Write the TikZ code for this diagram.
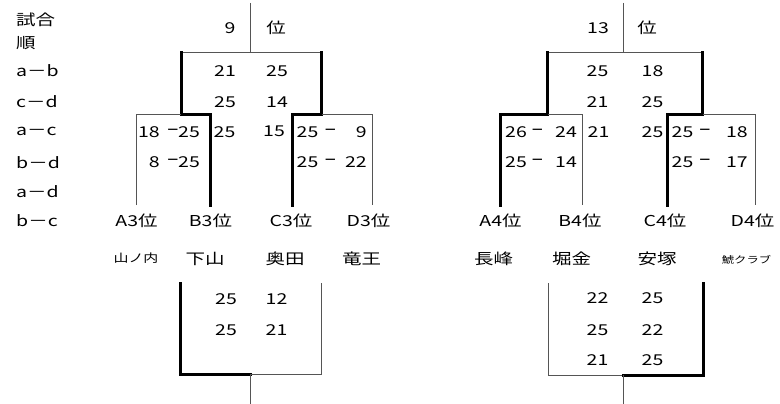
\documentclass[tikz,border=0pt]{standalone}
\usepackage{fontspec}
\setmainfont{Noto Sans CJK JP}[FakeStretch=1.3]
\newfontfamily\dashfont{DejaVu Sans}
\definecolor{line_gray}{HTML}{555555}

\tikzset{
    lose/.style={line width=1pt, line_gray},
    win/.style={line width=3pt, black, line cap=rect},
    lbl/.style={inner sep=0pt},
    dsh/.style={inner sep=0pt, font=\dashfont\fontsize{15}{18}\selectfont},
    small/.style={inner sep=0pt, font=\fontsize{11.5}{13}\selectfont},
    tiny/.style={inner sep=0pt, font=\fontsize{9.5}{11}\selectfont}
}

\begin{document}
\begin{tikzpicture}[x=1pt, y=-1pt, font=\fontsize{15}{18}\selectfont]
                \useasboundingbox (0,0) rectangle (780,404);
                % match order
                \node[lbl, anchor=west] (shiai) at (16,20) {試合};
                \node[lbl, anchor=west] (jun) at (16,43) {順};
                \node[lbl, anchor=west] (m1) at (16,70.7) {a－b};
                \node[lbl, anchor=west] (m2) at (16,101.7) {c－d};
                \node[lbl, anchor=west] (m3) at (16,131.7) {a－c};
                \node[lbl, anchor=west] (m4) at (16,162.3) {b－d};
                \node[lbl, anchor=west] (m5) at (16,191.7) {a－d};
                \node[lbl, anchor=west] (m6) at (16,220.7) {b－c};

                % 9th place bracket
                \draw[lose] (250.7,3) -- (250.7,53);
                \draw[lose] (181,53) -- (321.7,53);
                \draw[win] (210,205) -- (210,115) -- (181,115) -- (181,53);
                \draw[lose] (136,205) -- (136,115) -- (181,115);
                \draw[win] (292,205) -- (292,115) -- (321.7,115) -- (321.7,53);
                \draw[lose] (321.7,115) -- (372.5,115) -- (372.5,205);
                \draw[win] (180,283) -- (180,374) -- (250.7,374);
                \draw[lose] (250.7,374) -- (321.7,374) -- (321.7,283);
                \draw[lose] (250.7,374) -- (250.7,404);

                \node[lbl] (r9) at (230,28) {9};
                \node[lbl] (r9i) at (276,28) {位};
                \node[lbl] (f1l) at (225,70.7) {21};
                \node[lbl] (f1r) at (277,70.7) {25};
                \node[lbl] (f2l) at (225,101.7) {25};
                \node[lbl] (f2r) at (277,101.7) {14};
                \node[lbl] (f3l) at (224.5,131.7) {25};
                \node[lbl] (f3r) at (274,131.7) {15};
                \node[lbl, anchor=east] (ab1l) at (160,131.7) {18};
                \node[dsh] (ab1d) at (173,131.7) {−};
                \node[lbl] (ab1r) at (189,131.7) {25};
                \node[lbl, anchor=east] (ab2l) at (160,162.3) {8};
                \node[dsh] (ab2d) at (173,162.3) {−};
                \node[lbl] (ab2r) at (189,162.3) {25};
                \node[lbl] (cd1l) at (307.5,131.7) {25};
                \node[dsh] (cd1d) at (330.5,131.7) {−};
                \node[lbl, anchor=east] (cd1r) at (367,131.7) {9};
                \node[lbl] (cd2l) at (307.5,162.3) {25};
                \node[dsh] (cd2d) at (330.5,162.3) {−};
                \node[lbl, anchor=east] (cd2r) at (367,162.3) {22};

                \node[lbl] (a3) at (136.5,220.7) {A3位};
                \node[lbl] (b3) at (210.5,220.7) {B3位};
                \node[lbl] (c3) at (291,220.7) {C3位};
                \node[lbl] (d3) at (368.5,220.7) {D3位};
                \node[small] (yamanouchi) at (136,258.5) {山ノ内};
                \node[lbl] (shimoyama) at (205,258.5) {下山};
                \node[lbl] (okuda) at (285,258.5) {奥田};
                \node[lbl] (ryuoh) at (361.5,258.5) {竜王};

                \node[lbl] (p1l) at (226,299.3) {25};
                \node[lbl] (p1r) at (276.5,299.3) {12};
                \node[lbl] (p2l) at (226,330) {25};
                \node[lbl] (p2r) at (276.5,330) {21};

                % 13th place bracket
                \draw[lose] (623,3) -- (623,53);
                \draw[lose] (547.7,53) -- (702.7,53);
                \draw[win] (500,205) -- (500,115) -- (547.7,115) -- (547.7,53);
                \draw[lose] (547.7,115) -- (582.5,115) -- (582.5,205);
                \draw[win] (667.5,205) -- (667.5,115) -- (702.7,115) -- (702.7,53);
                \draw[lose] (702.7,115) -- (755,115) -- (755,205);
                \draw[lose] (548,283) -- (548,375) -- (623,375);
                \draw[win] (623,375) -- (703,375) -- (703,283);
                \draw[lose] (623,375) -- (623,404);

                \node[lbl] (r13) at (598,28) {13};
                \node[lbl] (r13i) at (647,28) {位};
                \node[lbl] (g1l) at (597.5,70.7) {25};
                \node[lbl] (g1r) at (652.5,70.7) {18};
                \node[lbl] (g2l) at (597.5,101.7) {21};
                \node[lbl] (g2r) at (652.5,101.7) {25};
                \node[lbl] (g3l) at (598.5,131.7) {21};
                \node[lbl] (g3r) at (652.5,131.7) {25};
                \node[lbl] (ef1l) at (516,131.7) {26};
                \node[dsh] (ef1d) at (537.5,131.7) {−};
                \node[lbl] (ef1r) at (566,131.7) {24};
                \node[lbl] (ef2l) at (516,162.3) {25};
                \node[dsh] (ef2d) at (537.5,162.3) {−};
                \node[lbl] (ef2r) at (566,162.3) {14};
                \node[lbl] (gh1l) at (682.5,131.7) {25};
                \node[dsh] (gh1d) at (705,131.7) {−};
                \node[lbl, anchor=east] (gh1r) at (748,131.7) {18};
                \node[lbl] (gh2l) at (682.5,162.3) {25};
                \node[dsh] (gh2d) at (705,162.3) {−};
                \node[lbl, anchor=east] (gh2r) at (748,162.3) {17};

                \node[lbl] (a4) at (500.5,220.5) {A4位};
                \node[lbl] (b4) at (580,220.5) {B4位};
                \node[lbl] (c4) at (665,220.5) {C4位};
                \node[lbl] (d4) at (752.5,220.5) {D4位};
                \node[lbl] (nagamine) at (493.5,258.5) {長峰};
                \node[lbl] (horigane) at (571.5,258.5) {堀金};
                \node[lbl] (yasuzuka) at (657,258.5) {安塚};
                \node[tiny] (shachi) at (746.5,260) {鯱クラブ};

                \node[lbl] (q1l) at (597.5,298.3) {22};
                \node[lbl] (q1r) at (652.5,298.3) {25};
                \node[lbl] (q2l) at (597.5,330) {25};
                \node[lbl] (q2r) at (652.5,330) {22};
                \node[lbl] (q3l) at (597.5,360) {21};
                \node[lbl] (q3r) at (652.5,360) {25};

            \end{tikzpicture}
\end{document}
